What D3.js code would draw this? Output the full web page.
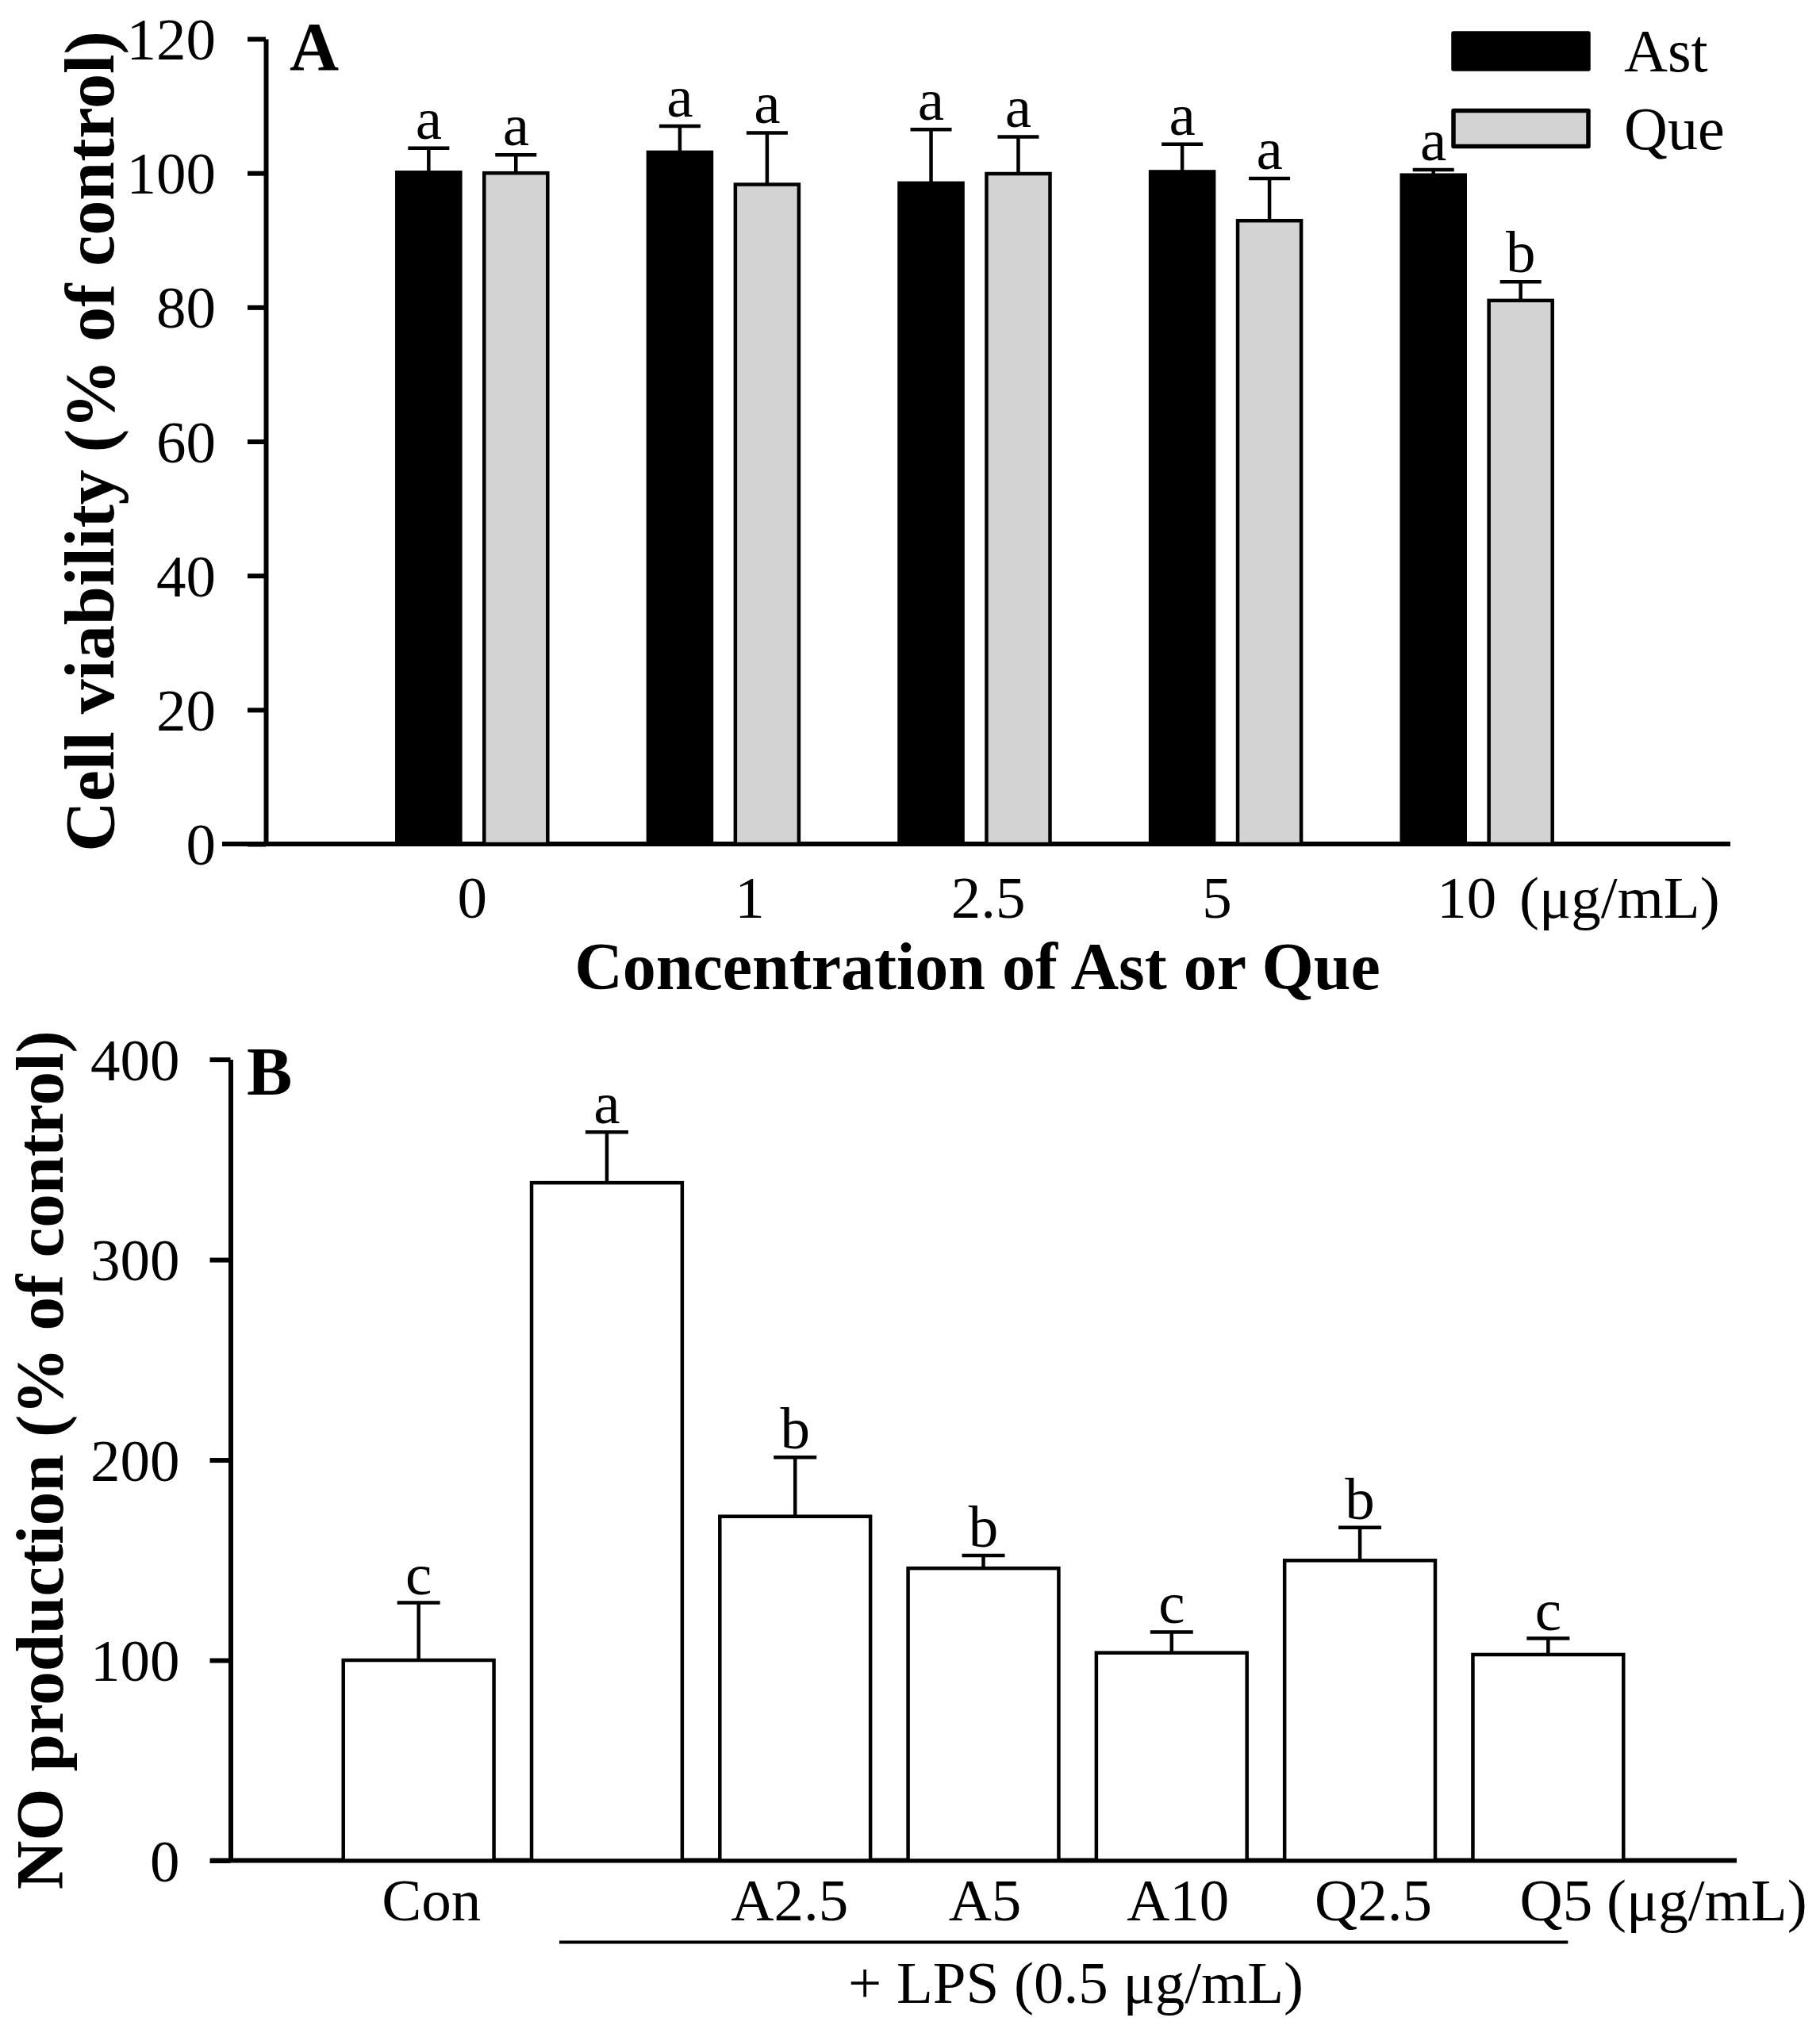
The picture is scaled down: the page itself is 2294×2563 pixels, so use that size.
<!DOCTYPE html>
<html>
<head>
<meta charset="utf-8">
<script src="https://cdn.jsdelivr.net/npm/d3@7"></script>
<style>
  body { margin: 0; background: #fff; }
  text { font-family: "Times New Roman", "Liberation Serif", serif; fill: #000; }
</style>
</head>
<body>
<div id="chart"></div>
<script>
// Panel A: cell viability
const concLabels = ["0", "1", "2.5", "5", "10"];
const astMean = [100.1, 103.1, 98.5, 100.2, 99.7];
const astErr = [3.6, 3.9, 8.0, 4.1, 0.8];
const queMean = [100.0, 98.3, 99.9, 92.9, 81.0];
const queErr = [2.7, 7.7, 5.5, 6.3, 2.8];
const astLetters = ["a", "a", "a", "a", "a"];
const queLetters = ["a", "a", "a", "a", "b"];
const ticksA = [0, 20, 40, 60, 80, 100, 120];

// Panel B: NO production
const noGroups = ["Con", "LPS", "A2.5", "A5", "A10", "Q2.5", "Q5"];
const noTickLabels = ["Con", "", "A2.5", "A5", "A10", "Q2.5", "Q5"];
const noMean = [100, 338.4, 171.8, 145.9, 103.7, 149.8, 102.8];
const noErr = [28.7, 25.3, 29.5, 6.4, 10.4, 16.5, 8.1];
const noLetters = ["c", "a", "b", "b", "c", "b", "c"];
const ticksB = [0, 100, 200, 300, 400];

const W = 2294, H = 2563;
const svg = d3.select("#chart").append("svg")
    .attr("width", W)
    .attr("height", H)
    .style("background", "#fff");

const fs = 75;       // normal text size
const sw = 4.5;      // bar / error bar line width
const aw = 6;        // axis line width

// ---------- Panel A ----------
const yA = d3.scaleLinear().domain([0, 120]).range([1064, 49]);
const xA = d3.scaleBand().domain(concLabels).range([437, 2020]);
const inner = d3.scaleBand().domain(["Ast", "Que"]).range([-95, 95]).paddingInner(0.272);
const axisXA = 335;

const gA = svg.append("g");

// y axis
gA.append("g")
    .attr("transform", `translate(${axisXA},0)`)
    .call(d3.axisLeft(yA).tickValues(ticksA).tickSize(23).tickSizeOuter(0).tickPadding(40))
    .call(g => g.selectAll("line, path").attr("stroke", "#000").attr("stroke-width", aw))
    .call(g => g.selectAll("text").style("font-size", fs + "px").attr("dy", "0.34em"));

// x axis line
gA.append("line")
    .attr("x1", 280).attr("x2", 2181)
    .attr("y1", yA(0)).attr("y2", yA(0))
    .attr("stroke", "#000").attr("stroke-width", aw);

// x tick labels (slightly nudged as in the original)
const nudgeA = [0, 33, 17, -11, -13];
gA.append("g")
    .attr("transform", `translate(0,${yA(0)})`)
    .call(d3.axisBottom(xA).tickSize(0).tickPadding(0))
    .call(g => g.select(".domain").remove())
    .call(g => g.selectAll("text")
        .style("font-size", fs + "px")
        .attr("dy", null)
        .attr("y", 93)
        .attr("dx", (d, i) => nudgeA[i]));

gA.append("text")
    .attr("x", 1915).attr("y", yA(0) + 93)
    .style("font-size", fs + "px")
    .text("(\u03bcg/mL)");

const seriesA = [
    {key: "Ast", mean: astMean, err: astErr, letters: astLetters, fill: "#000"},
    {key: "Que", mean: queMean, err: queErr, letters: queLetters, fill: "#d3d3d3"}
];

seriesA.forEach(s => {
    const cx = d => xA(d) + xA.bandwidth() / 2 + inner(s.key);
    const g = gA.append("g");
    g.selectAll("line.err")
        .data(concLabels)
        .enter().append("line")
        .attr("x1", d => cx(d) + inner.bandwidth() / 2)
        .attr("x2", d => cx(d) + inner.bandwidth() / 2)
        .attr("y1", (d, i) => yA(s.mean[i]))
        .attr("y2", (d, i) => yA(s.mean[i] + s.err[i]))
        .attr("stroke", "#000").attr("stroke-width", sw);
    g.selectAll("line.cap")
        .data(concLabels)
        .enter().append("line")
        .attr("x1", d => cx(d) + inner.bandwidth() / 2 - 26)
        .attr("x2", d => cx(d) + inner.bandwidth() / 2 + 26)
        .attr("y1", (d, i) => yA(s.mean[i] + s.err[i]))
        .attr("y2", (d, i) => yA(s.mean[i] + s.err[i]))
        .attr("stroke", "#000").attr("stroke-width", sw);
    g.selectAll("rect")
        .data(concLabels)
        .enter().append("rect")
        .attr("x", d => cx(d))
        .attr("width", inner.bandwidth())
        .attr("y", (d, i) => yA(s.mean[i]))
        .attr("height", (d, i) => yA(0) - yA(s.mean[i]))
        .attr("fill", s.fill)
        .attr("stroke", "#000").attr("stroke-width", sw);
    g.selectAll("text")
        .data(concLabels)
        .enter().append("text")
        .attr("x", d => cx(d) + inner.bandwidth() / 2)
        .attr("y", (d, i) => yA(s.mean[i] + s.err[i]) - 12)
        .attr("text-anchor", "middle")
        .style("font-size", fs + "px")
        .text((d, i) => s.letters[i]);
});

// panel letter
gA.append("text")
    .attr("x", 365).attr("y", 88)
    .style("font-size", "86px").style("font-weight", "bold")
    .text("A");

// axis titles
gA.append("text")
    .attr("transform", `translate(143,${(yA(0) + yA(120)) / 2}) rotate(-90)`)
    .attr("text-anchor", "middle")
    .style("font-size", "88px").style("font-weight", "bold")
    .text("Cell viability (% of control)");

gA.append("text")
    .attr("x", 1232).attr("y", 1247)
    .attr("text-anchor", "middle")
    .style("font-size", "84px").style("font-weight", "bold")
    .text("Concentration of Ast or Que");

// legend
const legend = gA.append("g");
seriesA.forEach((s, i) => {
    legend.append("rect")
        .attr("x", 1832).attr("y", 42 + i * 97.5)
        .attr("width", 170).attr("height", 45)
        .attr("fill", s.fill)
        .attr("stroke", "#000").attr("stroke-width", 5.5)
        .attr("stroke-linejoin", "round");
    legend.append("text")
        .attr("x", 2047).attr("y", 90 + i * 97.5)
        .style("font-size", "76px")
        .text(s.key);
});

// ---------- Panel B ----------
const yB = d3.scaleLinear().domain([0, 400]).range([2345.5, 1335.6]);
const xB = d3.scaleBand().domain(noGroups).range([409, 2070]).paddingInner(0.2).paddingOuter(0.1);
const axisXB = 290.5;

const gB = svg.append("g");

gB.append("g")
    .attr("transform", `translate(${axisXB},0)`)
    .call(d3.axisLeft(yB).tickValues(ticksB).tickSize(26).tickSizeOuter(0).tickPadding(38))
    .call(g => g.selectAll("line, path").attr("stroke", "#000").attr("stroke-width", aw))
    .call(g => g.selectAll("text").style("font-size", fs + "px").attr("dy", "0.34em"));

gB.append("line")
    .attr("x1", 265).attr("x2", 2189)
    .attr("y1", yB(0)).attr("y2", yB(0))
    .attr("stroke", "#000").attr("stroke-width", aw);

const nudgeB = [16, 0, -7, 2, 8, 17, 10];
gB.append("g")
    .attr("transform", `translate(0,${yB(0)})`)
    .call(d3.axisBottom(xB).tickSize(0).tickPadding(0).tickFormat((d, i) => noTickLabels[i]))
    .call(g => g.select(".domain").remove())
    .call(g => g.selectAll("text")
        .style("font-size", fs + "px")
        .attr("dy", null)
        .attr("y", 75)
        .attr("dx", (d, i) => nudgeB[i]));

gB.append("text")
    .attr("x", 2025).attr("y", yB(0) + 75)
    .style("font-size", fs + "px")
    .text("(\u03bcg/mL)");

const cB = d => xB(d) + xB.bandwidth() / 2;

gB.selectAll("line.err")
    .data(noGroups)
    .enter().append("line")
    .attr("x1", cB).attr("x2", cB)
    .attr("y1", (d, i) => yB(noMean[i]))
    .attr("y2", (d, i) => yB(noMean[i] + noErr[i]))
    .attr("stroke", "#000").attr("stroke-width", sw);

gB.selectAll("line.cap")
    .data(noGroups)
    .enter().append("line")
    .attr("x1", d => cB(d) - 27).attr("x2", d => cB(d) + 27)
    .attr("y1", (d, i) => yB(noMean[i] + noErr[i]))
    .attr("y2", (d, i) => yB(noMean[i] + noErr[i]))
    .attr("stroke", "#000").attr("stroke-width", sw);

gB.selectAll("rect.bar")
    .data(noGroups)
    .enter().append("rect")
    .attr("x", d => xB(d))
    .attr("width", xB.bandwidth())
    .attr("y", (d, i) => yB(noMean[i]))
    .attr("height", (d, i) => yB(0) - yB(noMean[i]))
    .attr("fill", "#fff")
    .attr("stroke", "#000").attr("stroke-width", sw);

gB.selectAll("text.sig")
    .data(noGroups)
    .enter().append("text")
    .attr("x", cB)
    .attr("y", (d, i) => yB(noMean[i] + noErr[i]) - 11)
    .attr("text-anchor", "middle")
    .style("font-size", fs + "px")
    .text((d, i) => noLetters[i]);

gB.append("text")
    .attr("x", 311).attr("y", 1380)
    .style("font-size", "86px").style("font-weight", "bold")
    .text("B");

gB.append("text")
    .attr("transform", `translate(79,${(yB(0) + yB(400)) / 2}) rotate(-90)`)
    .attr("text-anchor", "middle")
    .style("font-size", "85px").style("font-weight", "bold")
    .text("NO production (% of control)");

// LPS bracket
const lpsY = 2448.6;
gB.append("line")
    .attr("x1", cB("LPS") - 60).attr("x2", cB("Q5") + 25)
    .attr("y1", lpsY).attr("y2", lpsY)
    .attr("stroke", "#000").attr("stroke-width", 4);

gB.append("text")
    .attr("x", 1356).attr("y", 2525)
    .attr("text-anchor", "middle")
    .style("font-size", fs + "px")
    .text("+ LPS (0.5 \u03bcg/mL)");
</script>
</body>
</html>
